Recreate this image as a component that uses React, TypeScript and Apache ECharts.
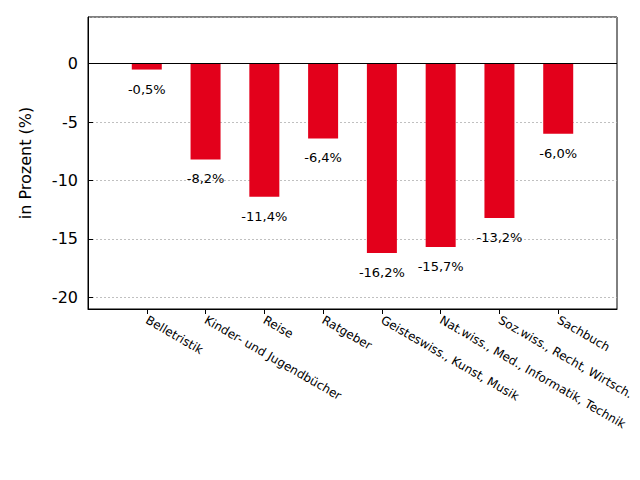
import React, { useEffect, useRef } from "react";
import * as echarts from "echarts";

const categories = [
  "",
  "Belletristik",
  "Kinder- und Jugendbücher",
  "Reise",
  "Ratgeber",
  "Geisteswiss., Kunst, Musik",
  "Nat.wiss., Med., Informatik, Technik",
  "Soz.wiss., Recht, Wirtsch.",
  "Sachbuch",
  "",
];
const values: (number | null)[] = [null, -0.5, -8.2, -11.4, -6.4, -16.2, -15.7, -13.2, -6.0, null];
const yMin = -21;
const yMax = 4;
const yTitle = "in Prozent (%)";

export default function App() {
  const ref = useRef<HTMLDivElement>(null);
  useEffect(() => {
    if (!ref.current) return;
    const chart = echarts.init(ref.current, null, { renderer: "svg" });
    const font = "DejaVu Sans";
    chart.setOption({
      animation: false,
      textStyle: { fontFamily: font },
      grid: {
        left: 80,
        right: 23,
        top: 9,
        bottom: 171,
        outerBoundsMode: "none",
        containLabel: false,
        show: true,
        borderColor: "#000",
        borderWidth: 1,
        backgroundColor: "transparent",
      },
      xAxis: {
        type: "category",
        data: categories,
        boundaryGap: false,
        axisLine: { show: true, onZero: false, lineStyle: { color: "#000", width: 1 } },
        axisTick: {
          show: true,
          inside: false,
          length: 5,
          interval: (i: number) => i > 0 && i < categories.length - 1,
          lineStyle: { color: "#000" },
        },
        axisLabel: {
          interval: 0,
          rotate: -30,
          fontSize: 12,
          color: "#000",
          fontFamily: font,
          margin: 10,
        },
        splitLine: { show: false },
      },
      yAxis: {
        type: "value",
        min: yMin,
        max: yMax,
        name: yTitle,
        nameLocation: "middle",
        nameRotate: 90,
        nameGap: 55,
        nameTextStyle: { fontSize: 16, color: "#000", fontFamily: font },
        axisLine: { show: true, lineStyle: { color: "#000" } },
        axisTick: { show: true, inside: true, length: 5, lineStyle: { color: "#000" } },
        axisLabel: {
          showMinLabel: false,
          showMaxLabel: false,
          fontSize: 16,
          color: "#000",
          fontFamily: font,
          margin: 10,
        },
        splitLine: { show: true, lineStyle: { color: "#b0b0b0", type: [2, 2], width: 0.8 } },
      },
      series: [
        {
          type: "bar",
          data: values,
          barWidth: 30,
          itemStyle: { color: "#e3001b" },
          label: {
            show: true,
            position: "bottom",
            distance: 13,
            fontSize: 13,
            color: "#000",
            fontFamily: font,
            formatter: (p: any) => p.value.toFixed(1).replace(".", ",") + "%",
          },
          markLine: {
            silent: true,
            symbol: "none",
            label: { show: false },
            lineStyle: { color: "#000", type: "solid", width: 1 },
            data: [{ yAxis: 0 }],
          },
        },
      ],
    });
    return () => chart.dispose();
  }, []);
  return <div ref={ref} style={{ width: 632, height: 472 }} />;
}
